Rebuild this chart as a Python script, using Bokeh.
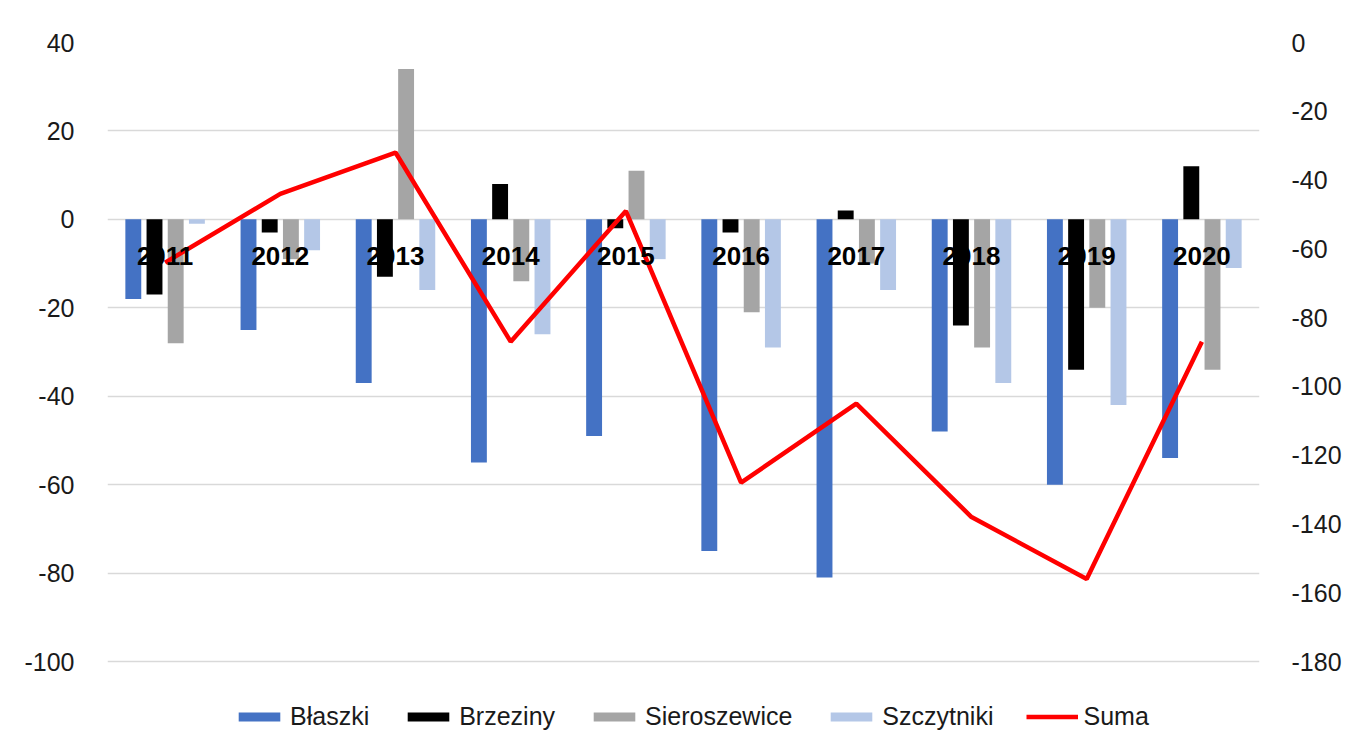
from bokeh.plotting import figure
from bokeh.models import (FactorRange, Range1d, LinearAxis, FixedTicker,
                          Legend, LegendItem, ColumnDataSource)
from bokeh.core.properties import value
from bokeh.transform import dodge
from bokeh.embed import file_html
from bokeh.resources import INLINE

years = ["2011", "2012", "2013", "2014", "2015", "2016", "2017", "2018", "2019", "2020"]
blaszki = [-18, -25, -37, -55, -49, -75, -81, -48, -60, -54]
brzeziny = [-17, -3, -13, 8, -2, -3, 2, -24, -34, 12]
sieroszewice = [-28, -9, 34, -14, 11, -21, -10, -29, -20, -34]
szczytniki = [-1, -7, -16, -26, -9, -29, -16, -37, -42, -11]
suma = [-64, -44, -32, -87, -49, -128, -105, -138, -156, -87]
left_ticks = [-100, -80, -60, -40, -20, 0, 20, 40]
right_ticks = [-180, -160, -140, -120, -100, -80, -60, -40, -20, 0]

series_names = ["Błaszki", "Brzeziny", "Sieroszewice", "Szczytniki"]
series_cols = ["blaszki", "brzeziny", "sieroszewice", "szczytniki"]
colors = ["#4472C4", "#000000", "#A5A5A5", "#B4C7E7"]
offsets = [-0.276, -0.092, 0.092, 0.276]

# layout (pixels)
W, H = 1344, 747
TOP, LEFT, RIGHT = 42, 107, 82
GRID_H = 619          # pixels between top (40 / 0) and bottom (-100 / -180) gridlines
LEGEND_ROOM = H - TOP - GRID_H   # space below the lowest gridline, kept inside the frame

l_lo, l_hi = min(left_ticks), max(left_ticks)
r_lo, r_hi = min(right_ticks), max(right_ticks)
l_ext = (l_hi - l_lo) * LEGEND_ROOM / GRID_H
r_ext = (r_hi - r_lo) * LEGEND_ROOM / GRID_H

src = ColumnDataSource(dict(year=years, blaszki=blaszki, brzeziny=brzeziny,
                            sieroszewice=sieroszewice, szczytniki=szczytniki, suma=suma,
                            base=[0] * len(years)))

p = figure(x_range=FactorRange(*years), y_range=Range1d(l_lo - l_ext, l_hi),
           width=W, height=H, output_backend="svg", toolbar_location=None,
           min_border_left=LEFT, min_border_right=RIGHT, min_border_top=TOP, min_border_bottom=0)
p.extra_y_ranges = {"suma": Range1d(r_lo - r_ext, r_hi)}
p.outline_line_color = None
p.background_fill_color = "white"
p.border_fill_color = "white"

p.xgrid.grid_line_color = None
p.ygrid.grid_line_color = "#D9D9D9"
p.ygrid.grid_line_width = 1.5

renderers = []
for col, c, off in zip(series_cols, colors, offsets):
    r = p.vbar(x=dodge("year", off, range=p.x_range), top=col, bottom=0, width=0.138,
               source=src, fill_color=c, line_color=None)
    renderers.append(r)
rl = p.line("year", "suma", source=src, y_range_name="suma", line_color="#FF0000", line_width=4.5)
renderers.append(rl)

# category labels drawn at the zero line, as in the original chart
p.text(x="year", y="base", text="year", source=src, text_align="center",
       text_baseline="middle", y_offset=37, text_font=value("Liberation Sans"),
       text_font_style="bold", text_font_size="26px", text_color="#000000")

tick_font = "Liberation Sans"
p.yaxis.ticker = FixedTicker(ticks=left_ticks)
p.yaxis.major_label_overrides = {t: str(t) for t in left_ticks}
p.yaxis.axis_line_color = None
p.yaxis.major_tick_line_color = None
p.yaxis.minor_tick_line_color = None
p.yaxis.major_label_text_font = tick_font
p.yaxis.major_label_text_font_size = "25px"
p.yaxis.major_label_text_color = "#1a1a1a"
p.yaxis.major_label_standoff = 27

ra = LinearAxis(y_range_name="suma", ticker=FixedTicker(ticks=right_ticks))
ra.major_label_overrides = {t: str(t) for t in right_ticks}
ra.axis_line_color = None
ra.major_tick_line_color = None
ra.minor_tick_line_color = None
ra.major_label_text_font = tick_font
ra.major_label_text_font_size = "25px"
ra.major_label_text_color = "#1a1a1a"
ra.major_label_standoff = 26
p.add_layout(ra, "right")

p.xaxis.visible = False

legend = Legend(items=[LegendItem(label=n, renderers=[r]) for n, r in
                       zip(series_names + ["Suma"], renderers)],
                orientation="horizontal", location=(126, 16))
legend.label_text_font = "Liberation Sans"
legend.label_text_font_size = "25px"
legend.label_text_color = "#1a1a1a"
legend.glyph_width = 52
legend.glyph_height = 11
legend.spacing = 33
legend.label_standoff = 5
legend.border_line_color = None
legend.background_fill_alpha = 0
legend.margin = 0
legend.padding = 0
p.add_layout(legend, "center")

open("out.html", "w").write(file_html(p, INLINE))
